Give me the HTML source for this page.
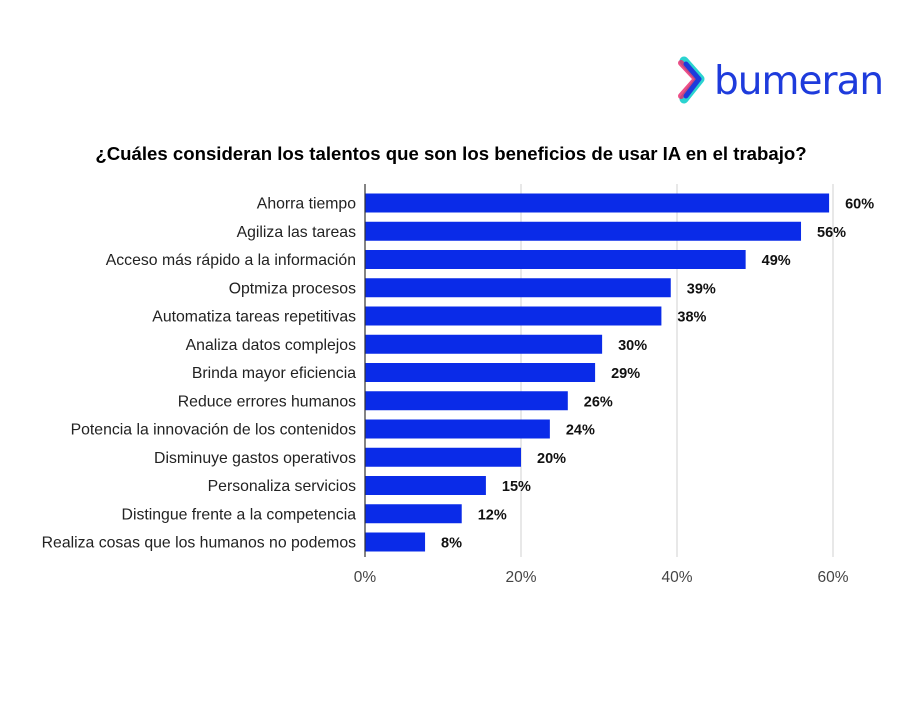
<!DOCTYPE html>
<html><head><meta charset="utf-8"><style>
body{margin:0;background:#fff;width:900px;height:700px;overflow:hidden;font-family:"Liberation Sans",sans-serif}
</style></head><body>
<svg id="c" width="900" height="700" xmlns="http://www.w3.org/2000/svg">
<g>
<path d="M684 61 L700 79 L684 99" fill="none" stroke="#2ad3d0" stroke-width="9" stroke-linecap="round" stroke-linejoin="round"/>
<path d="M681 63 L696 79 L681 96" fill="none" stroke="#e8246a" stroke-width="6" stroke-linecap="round" stroke-linejoin="round" opacity="0.8"/>
<path d="M686 64 L699 79 L686 96" fill="none" stroke="#1e3bdc" stroke-width="5" stroke-linecap="round" stroke-linejoin="round"/>
<text x="714" y="94" font-size="39" fill="#1e3bdc" font-family="DejaVu Sans, sans-serif" letter-spacing="-1">bumeran</text>
</g>
<text x="451" y="160" text-anchor="middle" font-size="18.6" font-weight="bold" fill="#000">¿Cuáles consideran los talentos que son los beneficios de usar IA en el trabajo?</text>
<g id="plot"></g>
</svg>
<script>
const categories=["Ahorra tiempo","Agiliza las tareas","Acceso más rápido a la información","Optmiza procesos","Automatiza tareas repetitivas","Analiza datos complejos","Brinda mayor eficiencia","Reduce errores humanos","Potencia la innovación de los contenidos","Disminuye gastos operativos","Personaliza servicios","Distingue frente a la competencia","Realiza cosas que los humanos no podemos"];
const values=[59.5,55.9,48.8,39.2,38,30.4,29.5,26,23.7,20,15.5,12.4,7.7];
const valueLabels=["60%","56%","49%","39%","38%","30%","29%","26%","24%","20%","15%","12%","8%"];
const ticks=[0,20,40,60];
const tickLabels=["0%","20%","40%","60%"];
const NS="http://www.w3.org/2000/svg";
const g=document.getElementById('plot');
const x0=365,xScale=v=>x0+v*7.8;
const y0=203,step=28.25,yScale=i=>y0+i*step;
function mk(t,a){const e=document.createElementNS(NS,t);for(const k in a)e.setAttribute(k,a[k]);g.appendChild(e);return e;}
ticks.forEach((t,i)=>{
 if(t>0){const l=mk('line',{x1:xScale(t),x2:xScale(t),y1:184,y2:557,stroke:'#d0d0d0','stroke-width':1});
 
 }
 const tx=mk('text',{x:xScale(t),y:582,'text-anchor':'middle','font-size':15.5,fill:'#444'});tx.textContent=tickLabels[i];
 
 
});
categories.forEach((c,i)=>{
 const y=yScale(i);
 const r=mk('rect',{x:x0,y:y-9.5,width:xScale(values[i])-x0,height:19,fill:'#0a2be8'});
 
 
 const cl=mk('text',{x:356,y:y+5.5,'text-anchor':'end','font-size':15.8,fill:'#222'});cl.textContent=c;
 
 
 const vl=mk('text',{x:xScale(values[i])+16,y:y+5.5,'font-size':14.5,'font-weight':'bold',fill:'#111'});vl.textContent=valueLabels[i];
 
 
});
const ax=mk('line',{x1:x0,x2:x0,y1:184,y2:557,stroke:'#333','stroke-width':1.2});


</script>
</body></html>
